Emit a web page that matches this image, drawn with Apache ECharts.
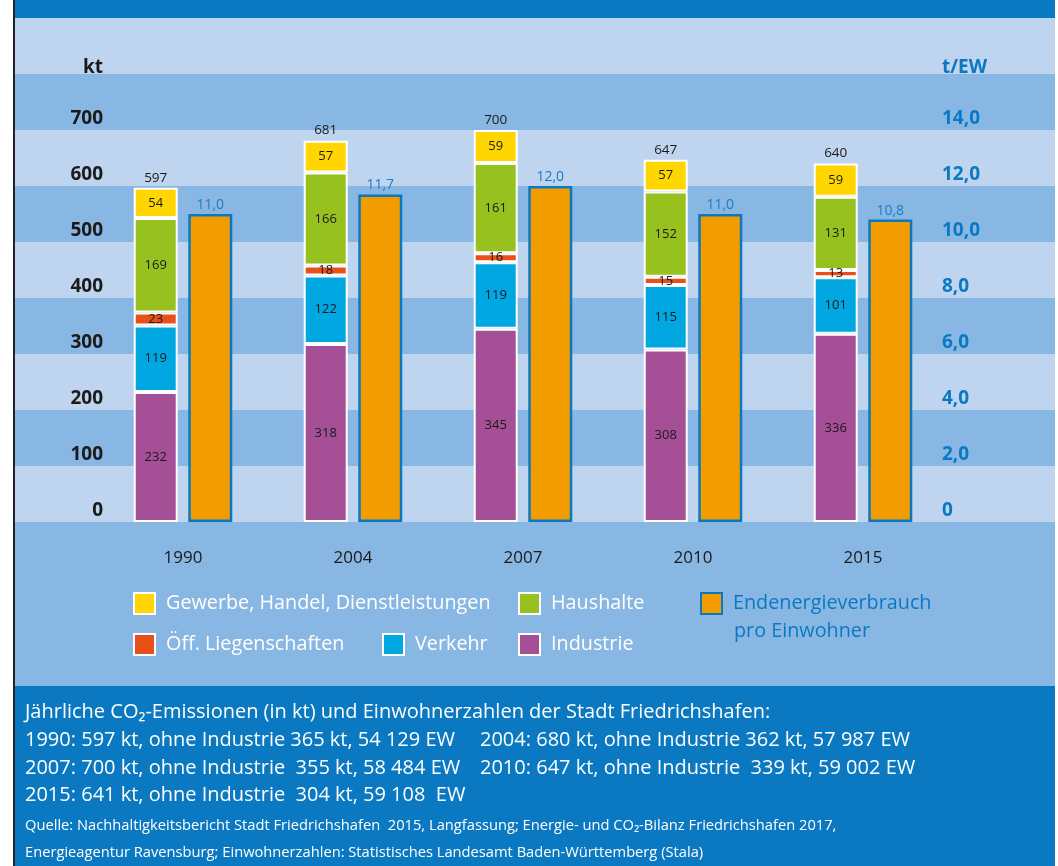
<!DOCTYPE html>
<html>
<head>
<meta charset="utf-8">
<style>
  html, body { margin: 0; padding: 0; background: #fff; }
  #main { width: 1058px; height: 866px; }
</style>
<script src="https://cdn.jsdelivr.net/npm/echarts@6/dist/echarts.min.js"></script>
</head>
<body>
<div id="main"></div>
<script>
// Daten (kt CO2 je Sektor, Endenergie t/EW)
var years = ['1990', '2004', '2007', '2010', '2015'];
var industrie = [232, 318, 345, 308, 336];
var verkehr = [119, 122, 119, 115, 101];
var liegenschaften = [23, 18, 16, 15, 13];
var haushalte = [169, 166, 161, 152, 131];
var gewerbe = [54, 57, 59, 57, 59];
var totals = [597, 681, 700, 647, 640];
var proEinwohner = [11.0, 11.7, 12.0, 11.0, 10.8];

var FONT = 'Open Sans';
var DARK = '#0a79c2';
var TXT = '#1a1a1a';

var myChart = echarts.init(document.getElementById('main'));

function stackSeries(name, data, color) {
  return {
    name: name,
    type: 'bar',
    stack: 'kt',
    xAxisIndex: 1,
    yAxisIndex: 1,
    barWidth: 44,
    barGap: '24%',
    data: data,
    itemStyle: { color: color, borderColor: '#ffffff', borderWidth: 2 },
    label: {
      show: true,
      position: 'inside',
      color: TXT,
      fontFamily: FONT,
      fontSize: 13
    }
  };
}

function legendAt(name, left, top, color, border) {
  return {
    data: [name],
    left: left,
    top: top,
    padding: 0,
    itemWidth: 21,
    itemHeight: 21,
    icon: 'rect',
    selectedMode: false,
    itemStyle: { borderColor: border, borderWidth: 2 },
    textStyle: {
      color: color,
      fontFamily: FONT,
      fontSize: 19.8,
      padding: [0, 0, 0, 6]
    }
  };
}

// Textblock unten
var infoLines = [
  { x: 25, y: 712, t: 'Jährliche CO₂-Emissionen (in kt) und Einwohnerzahlen der Stadt Friedrichshafen:' },
  { x: 25, y: 740, t: '1990: 597 kt, ohne Industrie 365 kt, 54 129 EW' },
  { x: 480, y: 740, t: '2004: 680 kt, ohne Industrie 362 kt, 57 987 EW' },
  { x: 25, y: 768, t: '2007: 700 kt, ohne Industrie  355 kt, 58 484 EW' },
  { x: 480, y: 768, t: '2010: 647 kt, ohne Industrie  339 kt, 59 002 EW' },
  { x: 25, y: 795, t: '2015: 641 kt, ohne Industrie  304 kt, 59 108  EW' }
];
var sourceLines = [
  'Quelle: Nachhaltigkeitsbericht Stadt Friedrichshafen  2015, Langfassung; Energie- und CO₂-Bilanz Friedrichshafen 2017,',
  'Energieagentur Ravensburg; Einwohnerzahlen: Statistisches Landesamt Baden-Württemberg (Stala)'
];

var graphics = [
  { type: 'rect', shape: { x: 0, y: 0, width: 13, height: 866 }, style: { fill: '#ffffff' }, z: 100 },
  { type: 'rect', shape: { x: 13, y: 0, width: 2, height: 866 }, style: { fill: '#222222' }, z: 100 },
  { type: 'rect', shape: { x: 1055, y: 0, width: 3, height: 866 }, style: { fill: '#ffffff' }, z: 100 },
  { type: 'rect', shape: { x: 15, y: 0, width: 1040, height: 18 }, style: { fill: DARK }, z: 100 },
  { type: 'rect', shape: { x: 15, y: 686, width: 1040, height: 180 }, style: { fill: DARK }, z: 100 },
  {
    type: 'text', x: 734, y: 631, z: 101,
    style: { text: 'pro Einwohner', fill: DARK, font: '19.8px ' + FONT, verticalAlign: 'middle' }
  }
];
infoLines.forEach(function (l) {
  graphics.push({
    type: 'text', x: l.x, y: l.y, z: 101,
    style: { text: l.t, fill: '#ffffff', font: '20px ' + FONT, verticalAlign: 'middle' }
  });
});
sourceLines.forEach(function (t, i) {
  graphics.push({
    type: 'text', x: 25, y: 826 + i * 27, z: 101,
    style: { text: t, fill: '#ffffff', font: '14.7px ' + FONT, verticalAlign: 'middle' }
  });
});

var endLegend = legendAt('Endenergieverbrauch pro Einwohner', 700, 592, DARK, DARK);
endLegend.formatter = function () { return 'Endenergieverbrauch'; };

myChart.setOption({
  backgroundColor: '#89b7e3',
  animation: false,
  grid: [
    // volle Breite nur fuer die Streifen im Hintergrund
    { left: 15, right: 3, top: 18, bottom: 344 },
    { left: 98, right: 110, top: 18, bottom: 344 }
  ],
  legend: [
    legendAt('Gewerbe, Handel, Dienstleistungen', 133, 592, '#ffffff', '#ffffff'),
    legendAt('Haushalte', 518, 592, '#ffffff', '#ffffff'),
    legendAt('Öff. Liegenschaften', 133, 633, '#ffffff', '#ffffff'),
    legendAt('Verkehr', 382, 633, '#ffffff', '#ffffff'),
    legendAt('Industrie', 518, 633, '#ffffff', '#ffffff'),
    endLegend
  ],
  xAxis: [
    { type: 'value', gridIndex: 0, show: false, min: 0, max: 1 },
    {
      type: 'category',
      gridIndex: 1,
      data: years,
      axisLine: { show: false },
      axisTick: { show: false },
      axisLabel: { color: TXT, fontFamily: FONT, fontSize: 17, margin: 28 }
    }
  ],
  yAxis: [
    {
      type: 'value',
      gridIndex: 0,
      min: 0,
      max: 900,
      interval: 100,
      splitLine: { show: false },
      splitArea: { show: true, areaStyle: { color: ['#bed4ef', '#89b7e3'] } },
      axisLine: { show: false },
      axisTick: { show: false },
      axisLabel: { show: false }
    },
    {
      type: 'value',
      gridIndex: 1,
      min: 0,
      max: 900,
      interval: 100,
      splitLine: { show: false },
      axisLine: { show: false },
      axisTick: { show: false },
      axisLabel: {
        color: TXT,
        fontFamily: FONT,
        fontSize: 19,
        fontWeight: 'bold',
        margin: -5,
        padding: [0, 0, 22, 0],
        formatter: function (v) {
          if (v === 800) return '{u|kt}';
          if (v === 900) return '';
          return v;
        },
        rich: { u: { color: TXT, fontFamily: FONT, fontSize: 19, fontWeight: 'bold', padding: [10, 0, 0, 0] } }
      }
    },
    {
      type: 'value',
      gridIndex: 1,
      min: 0,
      max: 18,
      interval: 2,
      splitLine: { show: false },
      axisLine: { show: false },
      axisTick: { show: false },
      axisLabel: {
        color: DARK,
        fontFamily: FONT,
        fontSize: 19,
        fontWeight: 'bold',
        margin: -6,
        padding: [0, 0, 22, 0],
        formatter: function (v) {
          if (v === 16) return '{u|t/EW}';
          if (v === 18) return '';
          if (v === 0) return '0';
          return v.toFixed(1).replace('.', ',');
        },
        rich: { u: { color: DARK, fontFamily: FONT, fontSize: 19, fontWeight: 'bold', padding: [10, 0, 0, 0] } }
      }
    }
  ],
  series: [
    stackSeries('Industrie', industrie, '#a54f97'),
    stackSeries('Verkehr', verkehr, '#00a7e1'),
    stackSeries('Öff. Liegenschaften', liegenschaften, '#e8501a'),
    stackSeries('Haushalte', haushalte, '#96c11f'),
    stackSeries('Gewerbe, Handel, Dienstleistungen', gewerbe, '#ffd600'),
    {
      name: 'Summe',
      type: 'bar',
      stack: 'kt',
      xAxisIndex: 1,
      yAxisIndex: 1,
      data: years.map(function () { return 0; }),
      itemStyle: { color: 'rgba(0,0,0,0)', borderWidth: 0 },
      label: {
        show: true,
        position: 'top',
        distance: 3,
        color: TXT,
        fontFamily: FONT,
        fontSize: 13.5,
        formatter: function (p) { return totals[p.dataIndex]; }
      }
    },
    {
      name: 'Endenergieverbrauch pro Einwohner',
      type: 'bar',
      xAxisIndex: 1,
      yAxisIndex: 2,
      barWidth: 44,
      data: proEinwohner,
      itemStyle: { color: '#f39c00', borderColor: DARK, borderWidth: 2.5 },
      label: {
        show: true,
        position: 'top',
        distance: 2,
        color: '#1c7cc4',
        fontFamily: FONT,
        fontSize: 14,
        formatter: function (p) { return p.value.toFixed(1).replace('.', ','); }
      }
    }
  ],
  graphic: graphics
});
</script>
</body>
</html>
